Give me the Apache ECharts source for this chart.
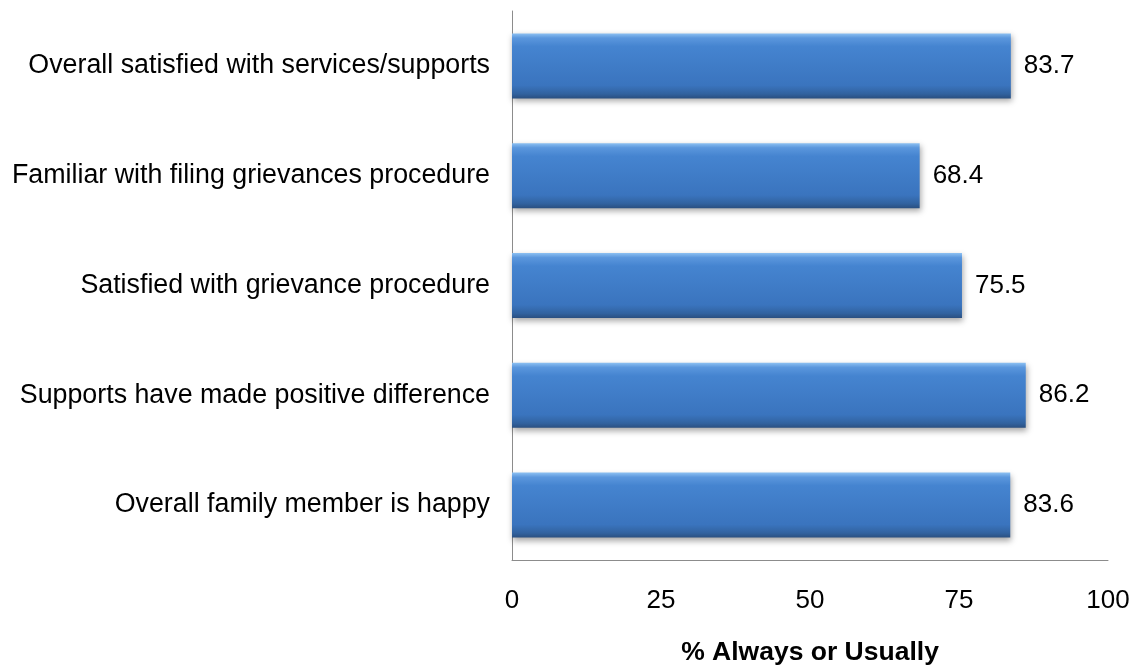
<!DOCTYPE html>
<html><head><meta charset="utf-8">
<script src="https://cdn.jsdelivr.net/npm/echarts@6/dist/echarts.min.js"></script>
<style>html,body{margin:0;padding:0;background:#fff}#c{width:1133px;height:671px}</style>
</head><body><div id="c"></div>
<script>
const categories = [
  "Overall satisfied with services/supports",
  "Familiar with filing grievances procedure",
  "Satisfied with grievance procedure",
  "Supports have made positive difference",
  "Overall family member is happy"
];
const values = [83.7, 68.4, 75.5, 86.2, 83.6];
const xTicks = [0, 25, 50, 75, 100];

const chart = echarts.init(document.getElementById('c'));
chart.setOption({
  animation: false,
  grid: { left: 512, right: 25, top: 11, bottom: 104 },
  xAxis: {
    type: 'value', min: xTicks[0], max: xTicks[xTicks.length-1], interval: 25,
    name: '% Always or Usually', nameLocation: 'middle', nameGap: 79,
    nameTextStyle: { fontFamily: 'Liberation Sans', fontSize: 26.5, fontWeight: 'bold', color: '#000' },
    axisLine: { show: true, lineStyle: { color: '#8c8c8c', width: 1 } },
    axisTick: { show: false },
    splitLine: { show: false },
    axisLabel: { fontFamily: 'Liberation Sans', fontSize: 26, color: '#000', margin: 28 }
  },
  yAxis: {
    type: 'category', data: categories, inverse: true,
    axisLine: { show: true, lineStyle: { color: '#8c8c8c', width: 1 } },
    axisTick: { show: false },
    axisLabel: { fontFamily: 'Liberation Sans', fontSize: 26.8, color: '#000', margin: 22 }
  },
  series: [{
    type: 'bar', data: values, barWidth: 65,
    itemStyle: {
      color: new echarts.graphic.LinearGradient(0, 0, 0, 1, [
        { offset: 0, color: '#8cc0f2' },
        { offset: 0.07, color: '#5b97dd' },
        { offset: 0.2, color: '#4584d0' },
        { offset: 0.8, color: '#3a74be' },
        { offset: 0.93, color: '#31629f' },
        { offset: 1, color: '#2a4f80' }
      ]),
      shadowColor: 'rgba(0,0,0,0.35)', shadowBlur: 6, shadowOffsetX: 1, shadowOffsetY: 3
    },
    label: {
      show: true, position: 'right', distance: 13,
      fontFamily: 'Liberation Sans', fontSize: 26, color: '#000',
      formatter: p => p.value.toFixed(1)
    }
  }]
});
</script></body></html>
